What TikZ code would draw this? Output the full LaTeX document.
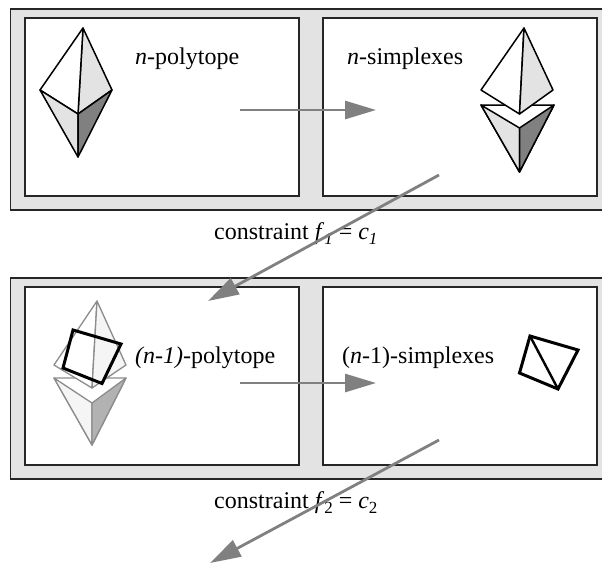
\documentclass[tikz,border=0pt]{standalone}
\usepackage{fontspec}
\setmainfont{Liberation Serif}
\usetikzlibrary{arrows.meta}
\definecolor{panelgray}{gray}{0.89}
\definecolor{arrowgray}{gray}{0.5}
\definecolor{lightface}{gray}{0.89}
\definecolor{darkface}{gray}{0.5}
\definecolor{palefacec}{gray}{0.96}
\definecolor{palemid}{gray}{0.7}
\definecolor{paleedge}{gray}{0.55}
\newcommand{\subt}[1]{\raisebox{-5pt}{\fontsize{17}{17}\selectfont #1}}
\tikzset{
  x=1pt,y=-1pt,
  outerbox/.style={draw=black!85,line width=1.4pt,fill=panelgray},
  innerbox/.style={draw=black!85,line width=1.3pt,fill=white},
  edgeb/.style={draw=black,line width=1.5pt,line join=round},
  edgep/.style={draw=paleedge,line width=1.3pt,line join=round},
  quadb/.style={draw=black,line width=3pt,line join=miter},
  flow/.style={draw=arrowgray,line width=2.8pt,-{Triangle[length=31pt,width=18pt,fill=arrowgray]}},
  lab/.style={anchor=base west,inner sep=0pt,font=\fontsize{24}{26}\selectfont},
}
\begin{document}
\begin{tikzpicture}
\useasboundingbox (0,0) rectangle (602,563);
% panels
\path[outerbox] (10.5,9) rectangle (610,210);
\path[innerbox] (25,18) rectangle (299,196);
\path[innerbox] (323,18) rectangle (597,196);
\path[outerbox] (10.5,278) rectangle (610,479);
\path[innerbox] (25,287) rectangle (299,465);
\path[innerbox] (323,287) rectangle (597,465);
% n-polytope
\path[edgeb,fill=lightface] (83,28) -- (112,90) -- (78,114) -- cycle;
\path[edgeb,fill=white] (83,28) -- (40,90) -- (78,114) -- cycle;
\path[edgeb,fill=lightface] (40,90) -- (78,114) -- (78,157) -- cycle;
\path[edgeb,fill=darkface] (112,90) -- (78,114) -- (78,157) -- cycle;
% n-simplexes
\path[edgeb,fill=white] (481,105) -- (554,105) -- (519.5,172) -- cycle;
\path[edgeb,fill=lightface] (481,105) -- (519.5,128) -- (519.5,172) -- cycle;
\path[edgeb,fill=darkface] (554,105) -- (519.5,128) -- (519.5,172) -- cycle;
\path[edgeb,fill=white] (524,28) -- (481,90) -- (519.5,114) -- cycle;
\path[edgeb,fill=lightface] (524,28) -- (553,90) -- (519.5,114) -- cycle;
% (n-1)-polytope ghost
\path[edgep,fill=white] (54,378) -- (126,378) -- (92,445) -- cycle;
\path[edgep,fill=palefacec] (54,378) -- (92,403) -- (92,445) -- cycle;
\path[edgep,fill=palemid] (126,378) -- (92,403) -- (92,445) -- cycle;
\path[edgep,fill=white] (97,301) -- (54,365) -- (92,388) -- cycle;
\path[edgep,fill=palefacec] (97,301) -- (126,365) -- (92,388) -- cycle;
\path[quadb] (73,330) -- (121,344) -- (102,383.5) -- (63,368) -- cycle;
% (n-1)-simplexes
\path[quadb] (530,336) -- (578,350) -- (558,389) -- (519.5,373) -- cycle;
\draw[draw=black,line width=2.4pt] (530,336) -- (558,389);
% labels
\node[lab] (t1) at (135,64) {\textit{n}-polytope};
\node[lab] (t2) at (347,64) {\textit{n}-simplexes};
\node[lab] (t3) at (135,363) {\textit{(n-1)}-polytope};
\node[lab] (t4) at (342,363) {(\textit{n}-1)-simplexes};
\node[lab] (t5) at (214,239.5) {constraint \textit{f}\subt{\textit{1}} = \textit{c}\subt{\textit{1}}};
\node[lab] (t6) at (214,508.5) {constraint \textit{f}\subt{2} = \textit{c}\subt{2}};
% connectors
\coordinate (a1) at (240,110); \coordinate (b1) at (376,110);
\coordinate (a2) at (439,175); \coordinate (b2) at (208,301);
\coordinate (a3) at (240,383); \coordinate (b3) at (376,383);
\coordinate (a4) at (439,440); \coordinate (b4) at (210,563);
\draw[flow] (a1) -- (b1);
\draw[flow] (a2) -- (b2);
\draw[flow] (a3) -- (b3);
\draw[flow] (a4) -- (b4);
\end{tikzpicture}
\end{document}
